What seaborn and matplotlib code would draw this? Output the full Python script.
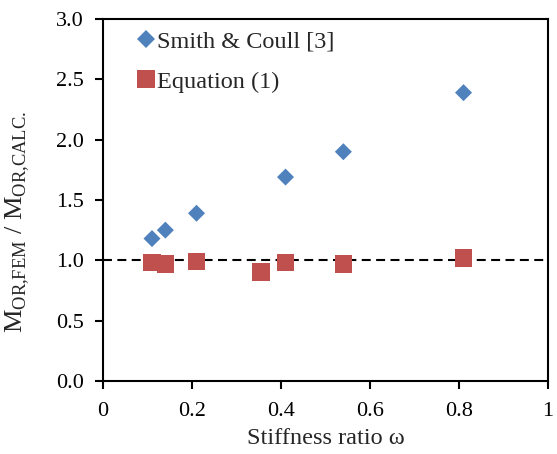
import numpy as np
import pandas as pd
import matplotlib
matplotlib.use('Agg')
import matplotlib.pyplot as plt
import seaborn as sns

# values
smith_x = [0.11, 0.14, 0.21, 0.41, 0.54, 0.81]
smith_y = [1.18, 1.25, 1.39, 1.69, 1.90, 2.39]
eq_x = [0.11, 0.14, 0.21, 0.355, 0.41, 0.54, 0.81]
eq_y = [0.98, 0.97, 0.99, 0.905, 0.98, 0.97, 1.02]

x_ticks = [0, 0.2, 0.4, 0.6, 0.8, 1]
x_tick_labels = ['0', '0.2', '0.4', '0.6', '0.8', '1']
y_ticks = [0.0, 0.5, 1.0, 1.5, 2.0, 2.5, 3.0]

sns.set_style('ticks')
plt.rcParams['font.family'] = ['Liberation Serif', 'DejaVu Serif']
plt.rcParams['mathtext.fontset'] = 'custom'
plt.rcParams['mathtext.rm'] = 'Liberation Serif'

df = pd.concat([
    pd.DataFrame({'x': smith_x, 'y': smith_y, 'series': 'Smith & Coull [3]'}),
    pd.DataFrame({'x': eq_x, 'y': eq_y, 'series': 'Equation (1)'}),
], ignore_index=True)

fig, ax = plt.subplots(figsize=(5.57, 4.54), dpi=100)
fig.subplots_adjust(left=0.185, right=0.984, top=0.958, bottom=0.161)

ax.axhline(1.0, color='black', linestyle=(0, (4.3, 2.6)), linewidth=1.5, zorder=1)

sns.scatterplot(data=df, x='x', y='y', hue='series', style='series',
                markers={'Smith & Coull [3]': 'D', 'Equation (1)': 's'},
                palette={'Smith & Coull [3]': '#4F81BD', 'Equation (1)': '#C0504D'},
                size='series', sizes={'Smith & Coull [3]': 75, 'Equation (1)': 160},
                edgecolor='none', linewidth=0, ax=ax, zorder=3)

ax.set_xlim(0, 1)
ax.set_ylim(0, 3)
ax.set_xticks(x_ticks)
ax.set_xticklabels(x_tick_labels)
ax.set_yticks(y_ticks)
ax.set_yticklabels([f'{v:.1f}' for v in y_ticks])
ax.tick_params(labelsize=16, direction='out', length=6, width=1.5, colors='black')
ax.tick_params(axis='x', pad=9)
ax.tick_params(axis='y', pad=8)
for s in ax.spines.values():
    s.set_linewidth(1.5)
    s.set_color('black')

ax.set_xlabel('Stiffness ratio \u03c9', fontsize=17.5, labelpad=5)
ax.set_ylabel(r'M$_{\mathrm{OR{,}FEM}}$ / M$_{\mathrm{OR{,}CALC.}}$', fontsize=19)
ax.yaxis.set_label_coords(-0.16, 0.44)

leg = ax.legend(loc='upper left', frameon=False, fontsize=17.5, handlelength=0.75,
                handletextpad=0.05, borderaxespad=0, labelspacing=0.75,
                bbox_to_anchor=(0.055, 0.995))

fig.savefig('out.png', dpi=100)
